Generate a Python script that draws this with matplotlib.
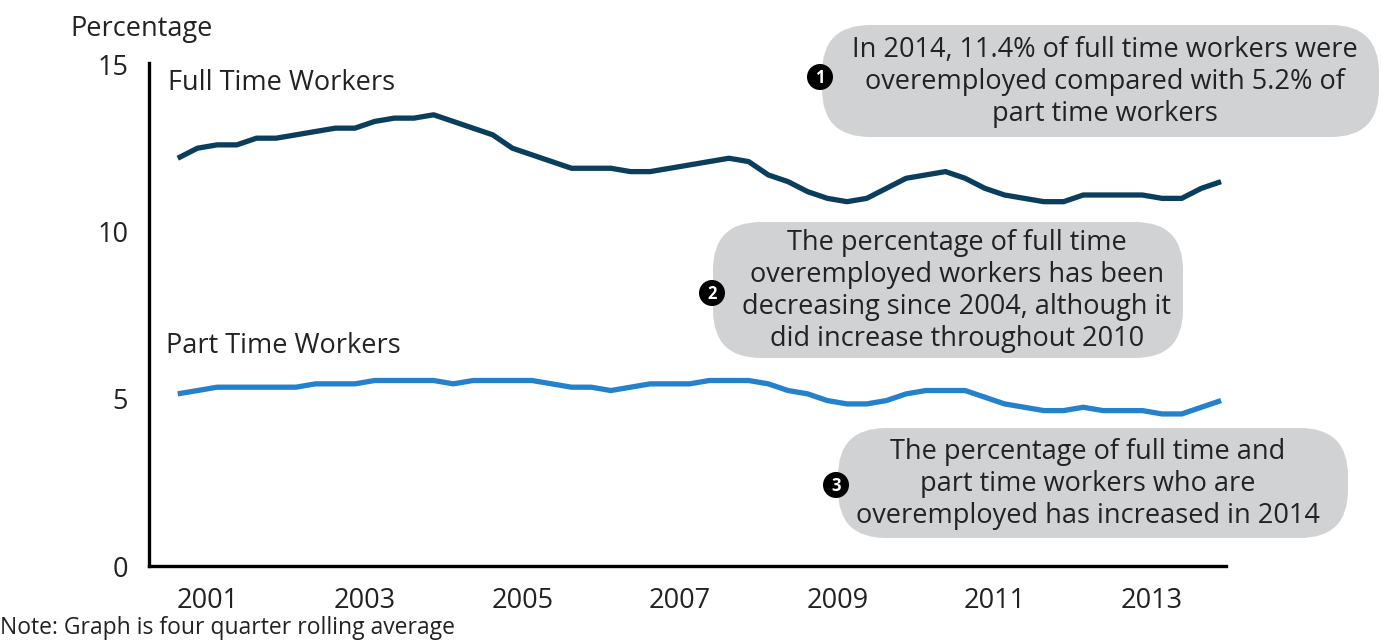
#!/usr/bin/env python3

import numpy as np
import matplotlib
matplotlib.use("Agg")
import matplotlib.pyplot as plt
from matplotlib.patches import FancyBboxPatch, Circle

# Four quarter rolling average, quarterly from Q3 2000 to Q4 2013
quarters = np.arange(54) * 0.25 + 2000.625

full_time = [12.2, 12.5, 12.6, 12.6, 12.8, 12.8, 12.9, 13.0, 13.1, 13.1,
             13.3, 13.4, 13.4, 13.5, 13.3, 13.1, 12.9, 12.5, 12.3, 12.1,
             11.9, 11.9, 11.9, 11.8, 11.8, 11.9, 12.0, 12.1, 12.2, 12.1,
             11.7, 11.5, 11.2, 11.0, 10.9, 11.0, 11.3, 11.6, 11.7, 11.8,
             11.6, 11.3, 11.1, 11.0, 10.9, 10.9, 11.1, 11.1, 11.1, 11.1,
             11.0, 11.0, 11.3, 11.5]

part_time = [5.15, 5.25, 5.35, 5.35, 5.35, 5.35, 5.35, 5.45, 5.45, 5.45,
             5.55, 5.55, 5.55, 5.55, 5.45, 5.55, 5.55, 5.55, 5.55, 5.45,
             5.35, 5.35, 5.25, 5.35, 5.45, 5.45, 5.45, 5.55, 5.55, 5.55,
             5.45, 5.25, 5.15, 4.95, 4.85, 4.85, 4.95, 5.15, 5.25, 5.25,
             5.25, 5.05, 4.85, 4.75, 4.65, 4.65, 4.75, 4.65, 4.65, 4.65,
             4.55, 4.55, 4.75, 4.95]

year_ticks = [2001, 2003, 2005, 2007, 2009, 2011, 2013]
pct_ticks = [0, 5, 10, 15]

notes = [
    "In 2014, 11.4% of full time workers were\noveremployed compared with 5.2% of\npart time workers",
    "The percentage of full time\noveremployed workers has been\ndecreasing since 2004, although it\ndid increase throughout 2010",
    "The percentage of full time and\npart time workers who are\noveremployed has increased in 2014",
]

FONT = "Open Sans"
TEXT = "#222222"
FS = 19.5
plt.rcParams["font.family"] = [FONT, "DejaVu Sans"]

fig = plt.figure(figsize=(13.81, 6.4), dpi=100)
ax = fig.add_axes([0.1079, 0.1156, 0.780, 0.786])

ax.plot(quarters, full_time, color="#0b3d5c", lw=3.8, solid_capstyle="butt")
ax.plot(quarters, part_time, color="#2481cc", lw=3.8, solid_capstyle="butt")

ax.set_xlim(2000.26, 2013.94)
ax.set_ylim(0, 15.05)
ax.set_xticks(year_ticks)
ax.set_xticklabels([str(y) for y in year_ticks])
ax.set_yticks(pct_ticks)
ax.tick_params(length=0, labelsize=FS, colors=TEXT)
ax.tick_params(axis="y", pad=15)
ax.tick_params(axis="x", pad=15)
for side in ("top", "right"):
    ax.spines[side].set_visible(False)
for side in ("left", "bottom"):
    ax.spines[side].set_linewidth(2.4)
    ax.spines[side].set_color("black")

# overlay in pixel units for labels and callouts
ov = fig.add_axes([0, 0, 1, 1])
ov.set_xlim(0, 1381)
ov.set_ylim(640, 0)
ov.axis("off")

ov.text(70, 29, "Percentage", fontsize=FS, color=TEXT, va="center", ha="left")
ov.text(168, 83, "Full Time Workers", fontsize=FS, color=TEXT, va="center", ha="left")
ov.text(166, 346, "Part Time Workers", fontsize=FS, color=TEXT, va="center", ha="left")
ov.text(0, 628, "Note: Graph is four quarter rolling average", fontsize=16.5,
        color=TEXT, va="center", ha="left")

# (left, top, right, bottom, text centre x, badge x, badge y)
boxes = [
    (822, 25, 1379, 137, 1105, 820, 77),
    (713, 222, 1183, 358, 957, 712, 293),
    (838, 428, 1348, 538, 1088, 836, 485),
]
for i, (l, t, r, b, cx, bx, by) in enumerate(boxes):
    ov.add_patch(FancyBboxPatch((l, t), r - l, b - t,
                                boxstyle="round,pad=0,rounding_size=48",
                                fc="#d1d2d4", ec="none"))
    ov.text(cx, (t + b) / 2 + 1, notes[i], fontsize=FS, color=TEXT,
            ha="center", va="center", linespacing=1.2)
    ov.add_patch(Circle((bx, by), 13, fc="black", ec="none"))
    ov.text(bx, by + 1, str(i + 1), fontsize=12, color="white",
            ha="center", va="center", fontweight="bold")

fig.savefig("out.png", dpi=100)
